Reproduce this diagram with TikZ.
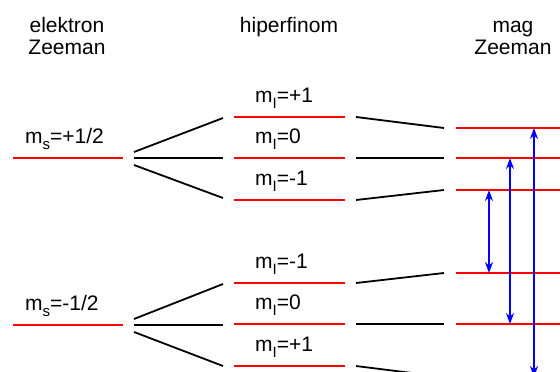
\documentclass[tikz,border=0pt]{standalone}
\usepackage{fontspec}
\setmainfont{Liberation Sans}
\usetikzlibrary{arrows.meta}
\newcommand{\lsub}[1]{\raisebox{-6pt}{\fontsize{15}{15}\selectfont #1}}
\tikzset{
  level/.style={draw=red, line width=2pt},
  conn/.style={draw=black, line width=1.8pt},
  trans/.style={draw=blue, line width=2.2pt, {Stealth[length=11pt,width=8pt]}-{Stealth[length=11pt,width=8pt]}},
  lbl/.style={inner sep=0pt, font=\fontsize{21}{25}\selectfont},
}
\begin{document}
\begin{tikzpicture}[x=1pt,y=-1pt]
\useasboundingbox (0,0) rectangle (560,372);
% headings
\node[lbl, anchor=base] (h1a) at (67,32) {elektron};
\node[lbl, anchor=base] (h1b) at (67,54) {Zeeman};
\node[lbl, anchor=base] (h2) at (289,32) {hiperfinom};
\node[lbl, anchor=base] (h3a) at (513,32) {mag};
\node[lbl, anchor=base] (h3b) at (513,54) {Zeeman};
% left levels
\coordinate (A1w) at (13,158); \coordinate (A1e) at (123,158);
\coordinate (A2w) at (13,325); \coordinate (A2e) at (123,325);
\draw[level] (A1w) -- (A1e);
\draw[level] (A2w) -- (A2e);
\node[lbl, anchor=base west] (ls1) at (25,143) {m\lsub{s}=+1/2};
\node[lbl, anchor=base west] (ls2) at (25,310) {m\lsub{s}=-1/2};
% middle levels
\foreach \n/\y in {1/117,2/158,3/200,4/283,5/324,6/366}{
  \coordinate (B\n w) at (234,\y); \coordinate (B\n e) at (345,\y);
  \draw[level] (B\n w) -- (B\n e);
}
\node[lbl, anchor=base west] (mi1) at (255,102) {m\lsub{I}=+1};
\node[lbl, anchor=base west] (mi2) at (255,143) {m\lsub{I}=0};
\node[lbl, anchor=base west] (mi3) at (255,185) {m\lsub{I}=-1};
\node[lbl, anchor=base west] (mi4) at (255,268) {m\lsub{I}=-1};
\node[lbl, anchor=base west] (mi5) at (255,309) {m\lsub{I}=0};
\node[lbl, anchor=base west] (mi6) at (255,351) {m\lsub{I}=+1};
% right levels
\foreach \n/\y in {1/128,2/158,3/190,4/273,5/324,6/377}{
  \coordinate (C\n w) at (456,\y); \coordinate (C\n e) at (562,\y);
  \draw[level] (C\n w) -- (C\n e);
}
% fans left -> middle
\coordinate (F1a) at (134,152); \coordinate (F1b) at (134,158); \coordinate (F1c) at (134,165);
\coordinate (G1a) at (223,118); \coordinate (G1b) at (223,158); \coordinate (G1c) at (223,198);
\draw[conn] (F1a) -- (G1a); \draw[conn] (F1b) -- (G1b); \draw[conn] (F1c) -- (G1c);
\coordinate (F2a) at (134,319); \coordinate (F2b) at (134,325); \coordinate (F2c) at (134,332);
\coordinate (G2a) at (223,284); \coordinate (G2b) at (223,325); \coordinate (G2c) at (223,366);
\draw[conn] (F2a) -- (G2a); \draw[conn] (F2b) -- (G2b); \draw[conn] (F2c) -- (G2c);
% middle -> right
\foreach \n/\ya/\yb in {1/117/128,2/158/158,3/200/190,4/283/273,5/324/324,6/366/377}{
  \coordinate (P\n) at (356,\ya); \coordinate (Q\n) at (444,\yb);
  \draw[conn] (P\n) -- (Q\n);
}
% transitions
\coordinate (T1a) at (489,190); \coordinate (T1b) at (489,273);
\coordinate (T2a) at (510,158); \coordinate (T2b) at (510,324);
\coordinate (T3a) at (534,128); \coordinate (T3b) at (534,377);
\draw[trans] (T1a) -- (T1b);
\draw[trans] (T2a) -- (T2b);
\draw[trans] (T3a) -- (T3b);
\end{tikzpicture}
\end{document}
